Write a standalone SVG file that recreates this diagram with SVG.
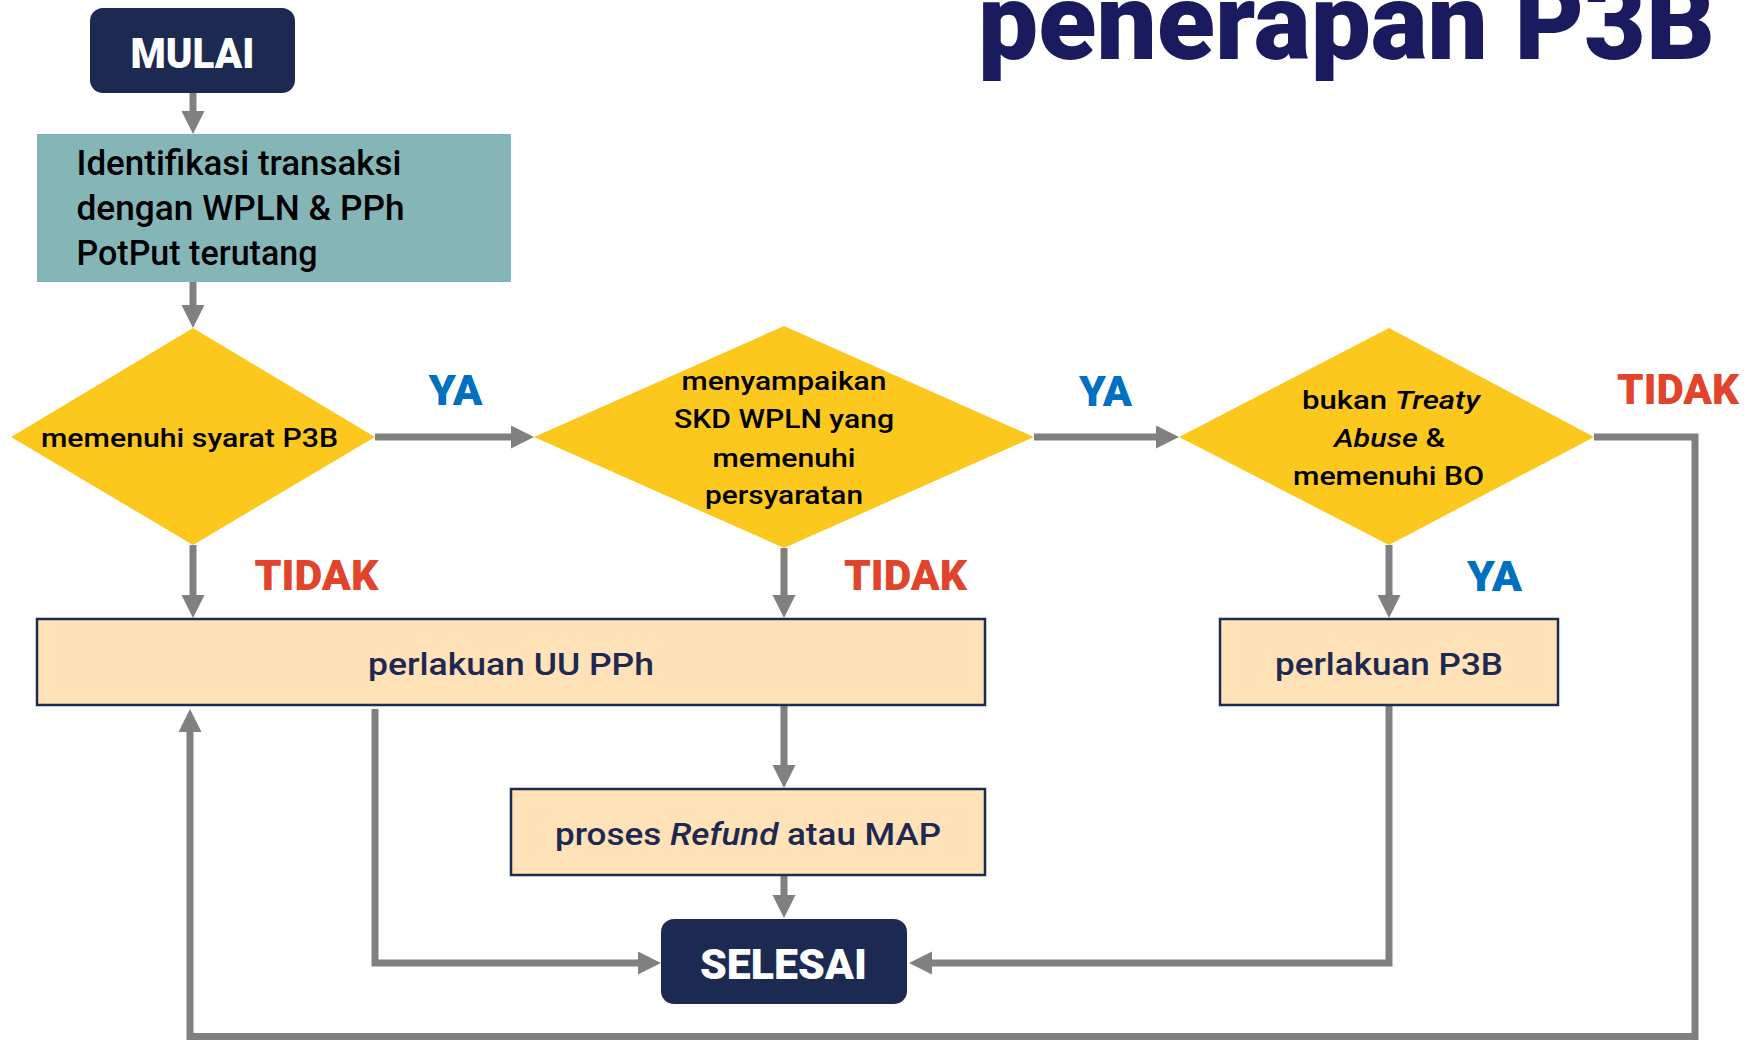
<svg xmlns="http://www.w3.org/2000/svg" width="1754" height="1040" viewBox="0 0 1754 1040">
<defs>
<marker id="ah" markerUnits="userSpaceOnUse" markerWidth="24" markerHeight="24" refX="0" refY="11.5" orient="auto">
<path d="M0,0 L23,11.5 L0,23 Z" fill="#808080"/>
</marker>
<style>
.conn{fill:none;stroke:#808080;stroke-width:7;stroke-linejoin:miter}
.term{fill:#1C2951}
.dia{fill:#FDC81E}
.peach{fill:#FFE2B7;stroke:#1F2A50;stroke-width:2.5}
.t{font-family:Roboto,"Liberation Sans",sans-serif;font-weight:500}
.dt{font-size:26px;fill:#000}
.pt{font-size:31px;fill:#1E2851}
.lbl{font-family:Roboto,"Liberation Sans",sans-serif;font-weight:900;font-size:42px}
.ya{fill:#0070C0}
.no{fill:#E2442B}
.wt{font-family:Roboto,"Liberation Sans",sans-serif;font-weight:900;font-size:43px;fill:#fff}
</style>
</defs>
<rect width="1754" height="1040" fill="#fff"/>
<text x="978" y="59" font-family="Roboto, 'Liberation Sans', sans-serif" font-size="108" font-weight="900" fill="#1A1A5E" textLength="737" lengthAdjust="spacingAndGlyphs">penerapan P3B</text>
<g id="connectors">
<path class="conn" d="M193 93 V111" marker-end="url(#ah)"/>
<path class="conn" d="M193 282 V305" marker-end="url(#ah)"/>
<path class="conn" d="M375 437 H511" marker-end="url(#ah)"/>
<path class="conn" d="M1034 437 H1156" marker-end="url(#ah)"/>
<path class="conn" d="M193 545 V595" marker-end="url(#ah)"/>
<path class="conn" d="M784 548 V595" marker-end="url(#ah)"/>
<path class="conn" d="M1389 545 V595" marker-end="url(#ah)"/>
<path class="conn" d="M784 705 V765" marker-end="url(#ah)"/>
<path class="conn" d="M784 875 V895" marker-end="url(#ah)"/>
<path class="conn" d="M375 709 V963 H638" marker-end="url(#ah)"/>
<path class="conn" d="M1389 705 V963 H932" marker-end="url(#ah)"/>
<path class="conn" d="M1594 437 H1695 V1036.5 H190 V732" marker-end="url(#ah)"/>
</g>
<g id="mulai">
<rect class="term" x="90" y="8" width="205" height="85" rx="13"/>
<text class="wt" x="130.5" y="68" textLength="124" lengthAdjust="spacingAndGlyphs">MULAI</text>
</g>
<g id="identifikasi">
<rect x="37" y="134" width="474" height="148" fill="#84B6B8"/>
<text class="t" font-size="35" fill="#000">
<tspan x="76.5" y="175" textLength="325" lengthAdjust="spacingAndGlyphs">Identifikasi transaksi</tspan>
<tspan x="76.5" y="220" textLength="328" lengthAdjust="spacingAndGlyphs">dengan WPLN &amp; PPh</tspan>
<tspan x="76.5" y="265" textLength="241" lengthAdjust="spacingAndGlyphs">PotPut terutang</tspan>
</text>
</g>
<g id="d1">
<polygon class="dia" points="193,328 375,437 193,545 11,437"/>
<text class="t dt" x="41" y="447" textLength="297" lengthAdjust="spacingAndGlyphs">memenuhi syarat P3B</text>
</g>
<g id="d2">
<polygon class="dia" points="784,326 1034,437 784,548 534,437"/>
<text class="t dt">
<tspan x="681.5" y="390" textLength="205" lengthAdjust="spacingAndGlyphs">menyampaikan</tspan>
<tspan x="674" y="428" textLength="220" lengthAdjust="spacingAndGlyphs">SKD WPLN yang</tspan>
<tspan x="712.5" y="467" textLength="143" lengthAdjust="spacingAndGlyphs">memenuhi</tspan>
<tspan x="705" y="504" textLength="158" lengthAdjust="spacingAndGlyphs">persyaratan</tspan>
</text>
</g>
<g id="d3">
<polygon class="dia" points="1389,328 1594,437 1389,545 1179,437"/>
<text class="t dt" x="1302" y="409" textLength="178" lengthAdjust="spacingAndGlyphs">bukan <tspan font-style="italic">Treaty</tspan></text>
<text class="t dt" x="1334" y="447" textLength="111" lengthAdjust="spacingAndGlyphs"><tspan font-style="italic">Abuse</tspan> &amp;</text>
<text class="t dt" x="1293" y="485" textLength="191" lengthAdjust="spacingAndGlyphs">memenuhi BO</text>
</g>
<g id="uupph">
<rect class="peach" x="37" y="619" width="948" height="86"/>
<text class="t pt" x="368" y="675" textLength="286" lengthAdjust="spacingAndGlyphs">perlakuan UU PPh</text>
</g>
<g id="p3b">
<rect class="peach" x="1220" y="619" width="338" height="86"/>
<text class="t pt" x="1275" y="675" textLength="228" lengthAdjust="spacingAndGlyphs">perlakuan P3B</text>
</g>
<g id="proses">
<rect class="peach" x="511" y="789" width="474" height="86"/>
<text class="t pt" x="555" y="845" textLength="386" lengthAdjust="spacingAndGlyphs">proses <tspan font-style="italic">Refund</tspan> atau MAP</text>
</g>
<g id="selesai">
<rect class="term" x="661" y="919" width="246" height="85" rx="13"/>
<text class="wt" x="700" y="979" textLength="167" lengthAdjust="spacingAndGlyphs">SELESAI</text>
</g>
<g id="labels">
<text class="lbl ya" x="428.6" y="405" textLength="54" lengthAdjust="spacingAndGlyphs">YA</text>
<text class="lbl ya" x="1079" y="406" textLength="53" lengthAdjust="spacingAndGlyphs">YA</text>
<text class="lbl ya" x="1467" y="591" textLength="55" lengthAdjust="spacingAndGlyphs">YA</text>
<text class="lbl no" x="254.5" y="590" textLength="124" lengthAdjust="spacingAndGlyphs">TIDAK</text>
<text class="lbl no" x="844" y="590" textLength="123" lengthAdjust="spacingAndGlyphs">TIDAK</text>
<text class="lbl no" x="1617" y="404" textLength="122" lengthAdjust="spacingAndGlyphs">TIDAK</text>
</g>
</svg>
